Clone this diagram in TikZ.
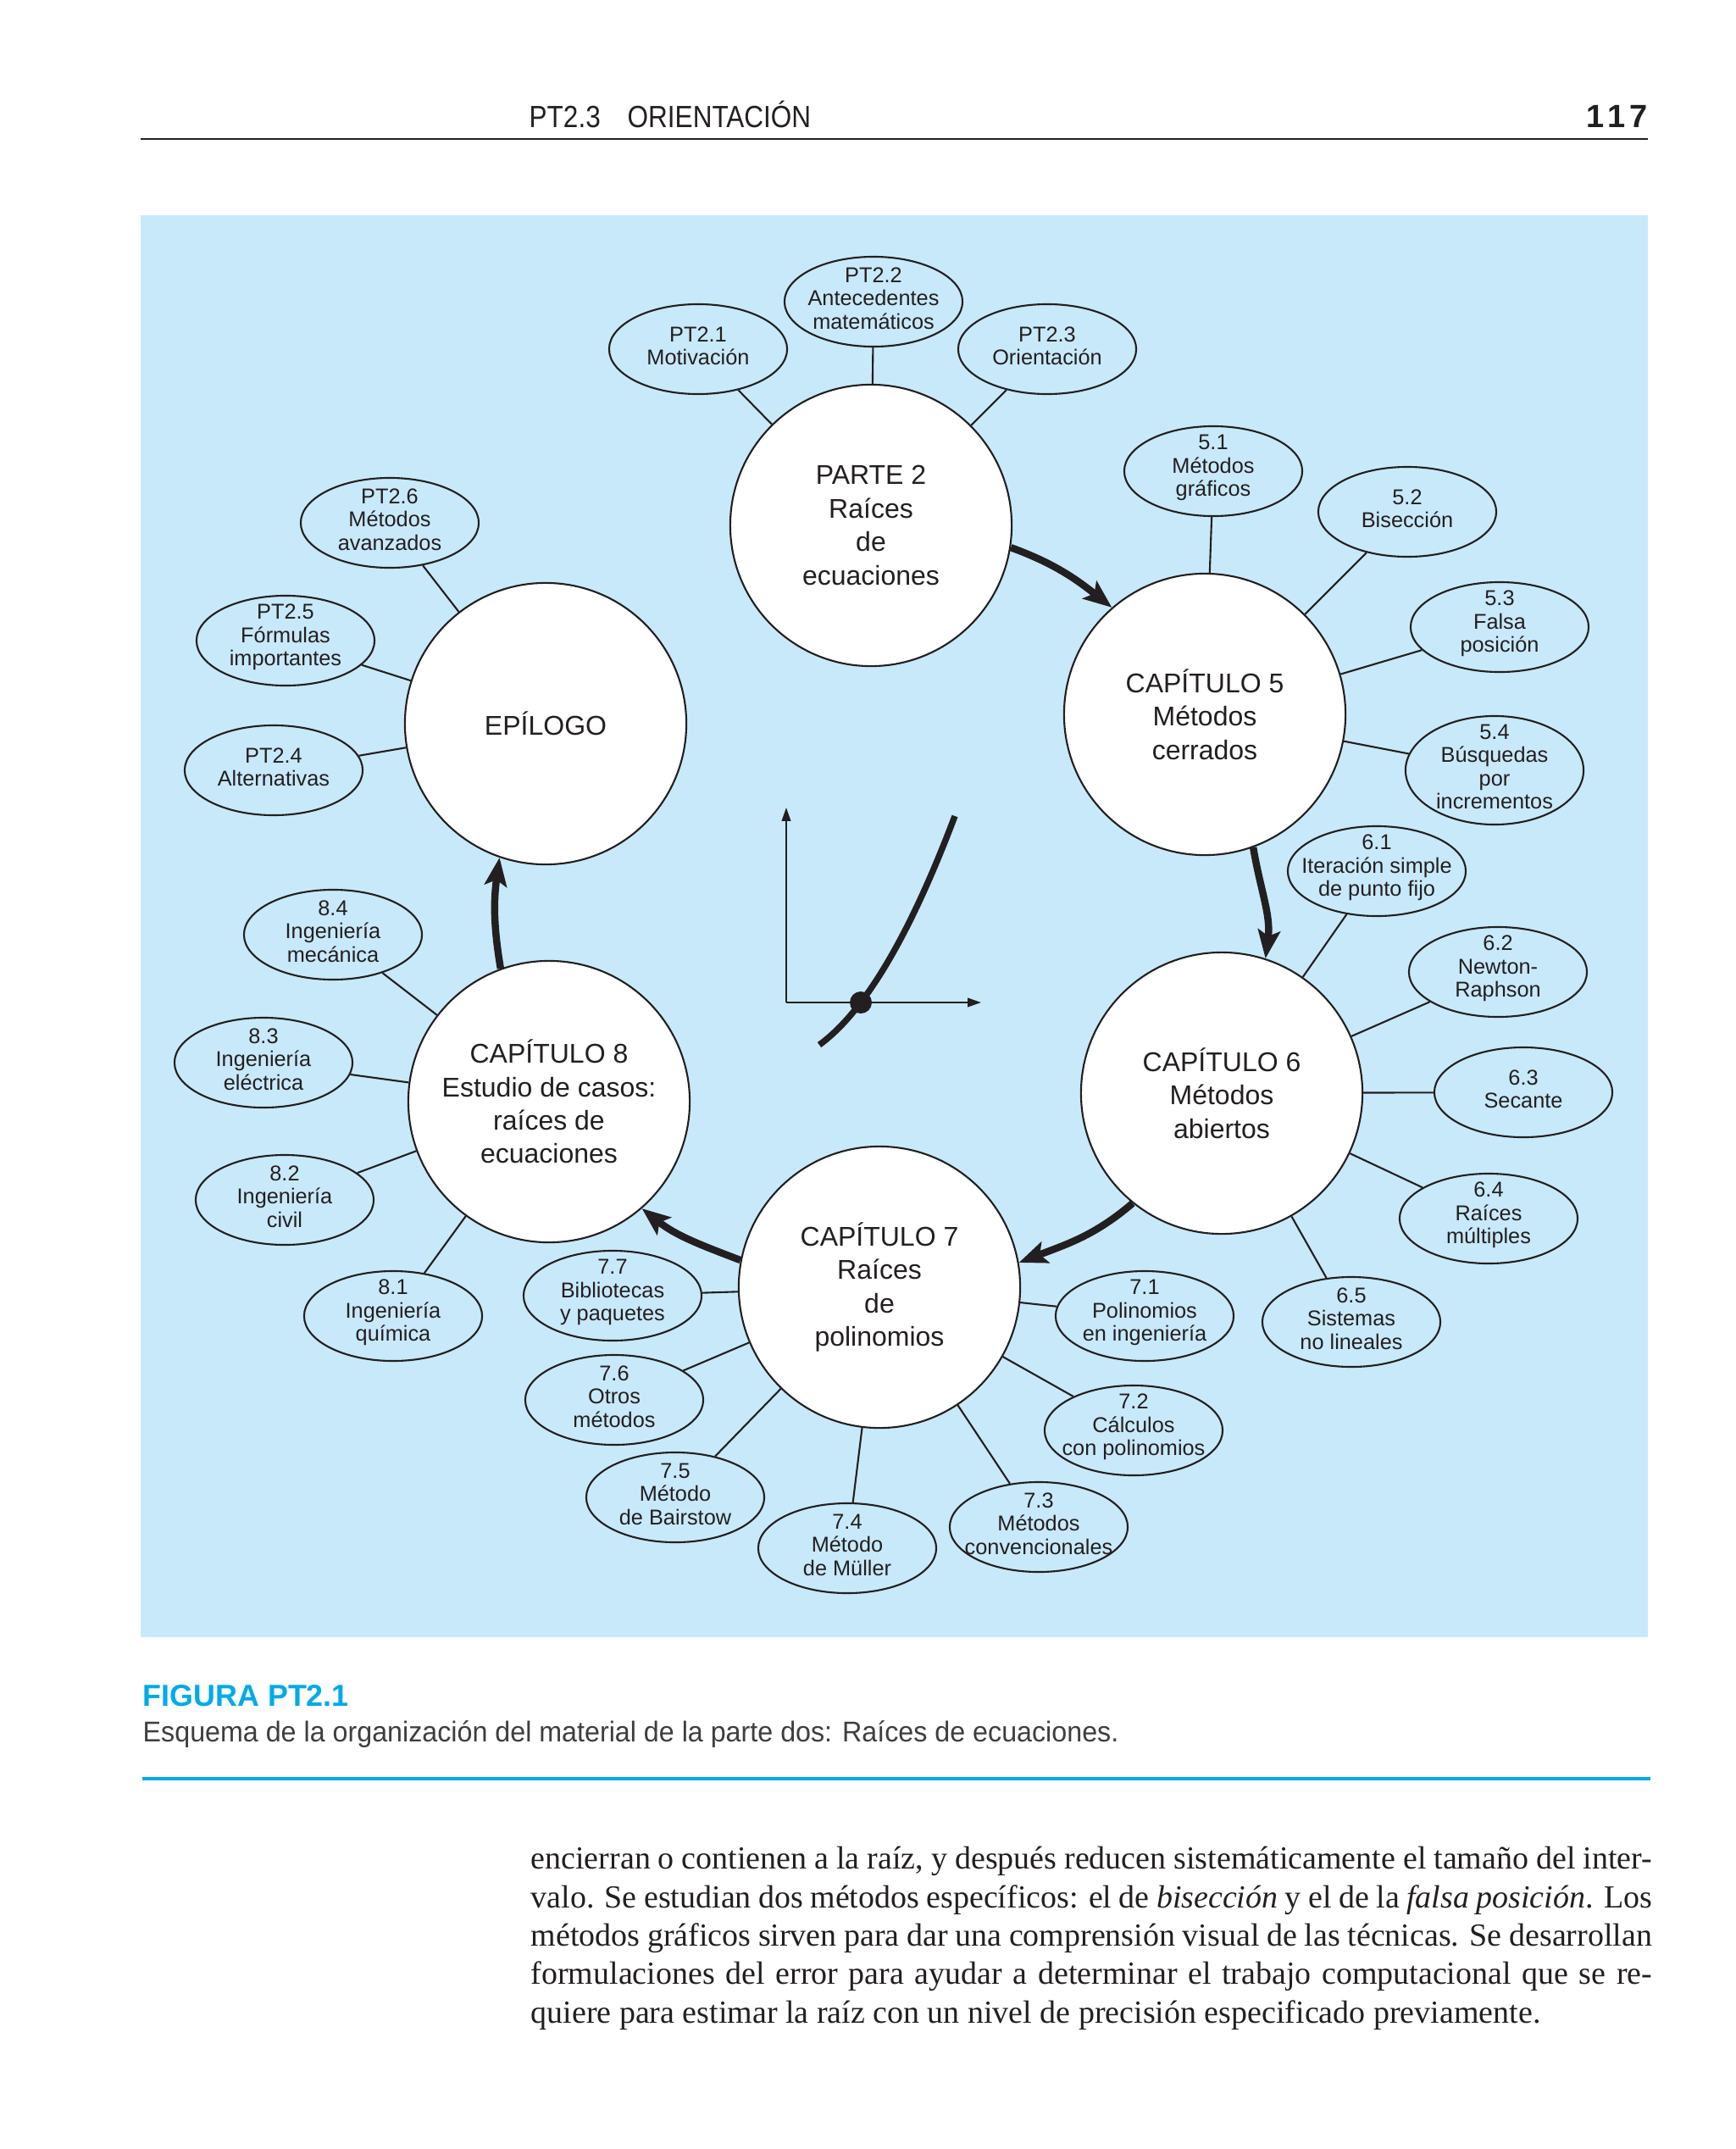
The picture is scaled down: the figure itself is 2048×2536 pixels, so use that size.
\documentclass[tikz,border=0pt]{standalone}
\usepackage{fontspec}
\setmainfont{Liberation Sans}
\newfontfamily\headfont[FakeStretch=0.87]{Liberation Sans}
\newfontfamily\capfont[FakeStretch=0.955]{Liberation Sans}
\newfontfamily\bodyfont{Liberation Serif}
\usetikzlibrary{shapes.geometric,arrows.meta}
\definecolor{panel}{RGB}{200,233,250}
\definecolor{cyanfig}{RGB}{0,170,233}
\definecolor{ink}{RGB}{35,31,32}
\definecolor{capink}{RGB}{62,62,62}
\newcommand\satnode[4][]{%
  \node[sat,#1] (#2) at (#3) {};
  \node[sattext] (#2-t) at (#2.center) {#4};}
\begin{document}
\begin{tikzpicture}[x=0.01cm,y=0.01cm,
  main/.style={circle, draw=ink, fill=white, line width=0.6pt, minimum size=3.32cm,
    inner sep=0pt, align=center, text=ink, font=\fontsize{9.1}{11.2}\selectfont},
  sat/.style={ellipse, draw=ink, line width=0.6pt, minimum width=2.1cm,
    minimum height=1.06cm, inner sep=0pt},
  sattext/.style={align=center, inner sep=0pt, text=ink, yshift=0.04cm,
    font=\fontsize{7.2}{7.8}\selectfont},
  link/.style={draw=ink, line width=0.6pt},
  flow/.style={draw=ink, line width=2.4pt,
    -{Stealth[length=9.5pt,width=7.5pt,inset=2pt]}},
  bodyline/.style={anchor=base west, inner sep=0pt, text=ink,
    font=\bodyfont\fontsize{10.8}{12.9}\selectfont},
  axis/.style={draw=ink, line width=0.5pt, -{Triangle[length=4.5pt,width=3pt]}}
]
\useasboundingbox (0,0) rectangle (2048,-2536);
\fill[white] (0,0) rectangle (2048,-2536);

% header
\node[anchor=base west, inner sep=0pt, text=ink, font=\headfont\fontsize{10.3}{12}\selectfont] (hd1) at (624,-150) {PT2.3};
\node[anchor=base west, inner sep=0pt, text=ink, font=\headfont\fontsize{10.3}{12}\selectfont] (hd2) at (740,-150) {ORIENTACIÓN};
\node[anchor=base east, inner sep=0pt, text=ink, font=\fontsize{10.8}{12}\bfseries\selectfont] (pg) at (1945,-150) {1\kern1.2pt1\kern1.2pt7};
\draw[ink, line width=0.7pt] (166,-164) -- (1945,-164);

% panel
\fill[panel] (166,-254) rectangle (1945,-1932);

% small graph
\draw[axis] (928,-1183) -- (928,-953);
\draw[axis] (928,-1183) -- (1158,-1183);
\draw[ink, line width=2.1pt] (967,-1233) .. controls (1020.3,-1194.3) and (1073.7,-1104.3) .. (1127,-963);
\fill[ink] (1016,-1183) circle[radius=0.13cm];

% main circles
\node[main] (p2) at (1028,-620) {PARTE 2\\Raíces\\de\\ecuaciones};
\node[main] (c5) at (1422,-843) {CAPÍTULO 5\\Métodos\\cerrados};
\node[main] (c6) at (1442,-1290) {CAPÍTULO 6\\Métodos\\abiertos};
\node[main] (c7) at (1038,-1519) {CAPÍTULO 7\\Raíces\\de\\polinomios};
\node[main] (c8) at (648,-1300) {CAPÍTULO 8\\Estudio de casos:\\raíces de\\ecuaciones};
\node[main] (epi) at (644,-854) {EPÍLOGO};

% satellites
\satnode{pt21}{824,-412}{PT2.1\\Motivación}
\satnode{pt22}{1031,-356}{PT2.2\\Antecedentes\\matemáticos}
\satnode{pt23}{1236,-412}{PT2.3\\Orientación}
\satnode{pt26}{460,-617}{PT2.6\\Métodos\\avanzados}
\satnode{pt25}{337,-756}{PT2.5\\Fórmulas\\importantes}
\satnode{pt24}{323,-909}{PT2.4\\Alternativas}
\satnode{s51}{1432,-556}{5.1\\Métodos\\gráficos}
\satnode{s52}{1661,-604}{5.2\\Bisección}
\satnode{s53}{1770,-740}{5.3\\Falsa\\posición}
\satnode[minimum height=1.28cm]{s54}{1764,-909}{5.4\\Búsquedas\\por\\incrementos}
\satnode{s61}{1625,-1028}{6.1\\Iteración simple\\de punto fijo}
\satnode{s62}{1768,-1147}{6.2\\Newton-\\Raphson}
\satnode{s63}{1798,-1289}{6.3\\Secante}
\satnode{s64}{1757,-1438}{6.4\\Raíces\\múltiples}
\satnode{s65}{1595,-1560}{6.5\\Sistemas\\no lineales}
\satnode{s71}{1351,-1553}{7.1\\Polinomios\\en ingeniería}
\satnode{s72}{1338,-1688}{7.2\\Cálculos\\con polinomios}
\satnode{s73}{1226,-1802}{7.3\\Métodos\\convencionales}
\satnode{s74}{1000,-1827}{7.4\\Método\\de Müller}
\satnode{s75}{797,-1767}{7.5\\Método\\de Bairstow}
\satnode{s76}{725,-1652}{7.6\\Otros\\métodos}
\satnode{s77}{723,-1529}{7.7\\Bibliotecas\\y paquetes}
\satnode{s81}{464,-1553}{8.1\\Ingeniería\\química}
\satnode{s82}{336,-1416}{8.2\\Ingeniería\\civil}
\satnode{s83}{311,-1254}{8.3\\Ingeniería\\eléctrica}
\satnode{s84}{393,-1103}{8.4\\Ingeniería\\mecánica}

% links
\foreach \s in {pt21,pt22,pt23} \draw[link] (\s) -- (p2);
\foreach \s in {pt24,pt25,pt26} \draw[link] (\s) -- (epi);
\foreach \s in {s51,s52,s53,s54} \draw[link] (\s) -- (c5);
\foreach \s in {s61,s62,s63,s64,s65} \draw[link] (\s) -- (c6);
\foreach \s in {s71,s72,s73,s74,s75,s76,s77} \draw[link] (\s) -- (c7);
\foreach \s in {s81,s82,s83,s84} \draw[link] (\s) -- (c8);

% flow arrows
\draw[flow] (p2.-9.5) to[out=-20, in=141.6] (c5.131);
\draw[flow] (c5.-70) to[out=-80.4, in=82.6] (c6.72);
\draw[flow] (c6.-129) to[out=-139.4, in=21.1] (c7.10.6);
\draw[flow] (c7.169.6) to[out=159.1, in=-38.5] (c8.-49);
\draw[flow] (c8.110) to[out=99.5, in=262.1] (epi.251.6);

% caption
\node[anchor=base west, inner sep=0pt, text=cyanfig, font=\fontsize{10.2}{12}\bfseries\selectfont] (figlab) at (168,-2013) {FIGURA PT2.1};
\node[anchor=base west, inner sep=0pt, text=capink, font=\capfont\fontsize{9.6}{12}\selectfont] (figcap) at (168,-2055) {Esquema de la organización del material de la parte dos: Raíces de ecuaciones.};
\draw[cyanfig, line width=1.4pt] (168,-2099) -- (1948,-2099);

% body text
\node[bodyline] (b1) at (626,-2205) {\makebox[376.3pt][s]{encierran o contienen a la raíz, y después reducen sistemáticamente el tamaño del inter-}};
\node[bodyline] (b2) at (626,-2251) {\makebox[376.3pt][s]{valo. Se estudian dos métodos específicos: el de \textit{bisección} y el de la \textit{falsa posición}. Los}};
\node[bodyline] (b3) at (626,-2296) {\makebox[376.3pt][s]{métodos gráficos sirven para dar una comprensión visual de las técnicas. Se desarrollan}};
\node[bodyline] (b4) at (626,-2341) {\makebox[376.3pt][s]{formulaciones del error para ayudar a determinar el trabajo computacional que se re-}};
\node[bodyline] (b5) at (626,-2387) {quiere para estimar la raíz con un nivel de precisión especificado previamente.};
\end{tikzpicture}
\end{document}
